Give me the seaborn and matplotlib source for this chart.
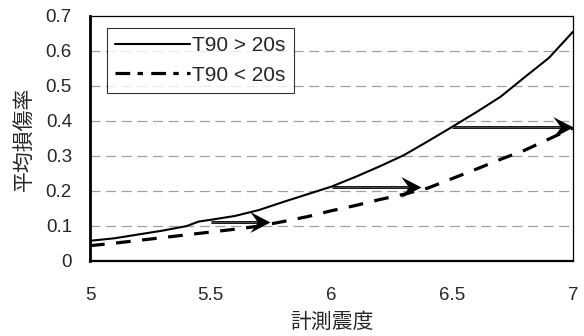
import matplotlib
matplotlib.use("Agg")
import matplotlib.pyplot as plt
from matplotlib.path import Path
import seaborn as sns
import pandas as pd

# seismic intensity (計測震度) grid
intensity = [5.0, 5.1, 5.2, 5.3, 5.4, 5.45, 5.5, 5.6, 5.7, 5.8, 5.9, 6.0,
             6.1, 6.2, 6.3, 6.4, 6.5, 6.6, 6.7, 6.8, 6.9, 7.0]
# mean damage ratio, long-duration motions
damage_long = [0.057, 0.064, 0.075, 0.086, 0.099, 0.112, 0.117, 0.128, 0.145,
               0.168, 0.190, 0.212, 0.240, 0.270, 0.302, 0.342, 0.383, 0.425,
               0.469, 0.525, 0.580, 0.655]
# mean damage ratio, short-duration motions
damage_short = [0.043, 0.050, 0.058, 0.066, 0.074, 0.078, 0.082, 0.090, 0.099,
                0.112, 0.126, 0.143, 0.158, 0.175, 0.190, 0.208, 0.235, 0.262,
                0.290, 0.316, 0.348, 0.380]
series_names = ["T90 > 20s", "T90 < 20s"]

# horizontal shift arrows: (start x, end x, damage level)
arrow_x0 = [5.5, 6.0, 6.5]
arrow_x1 = [5.745, 6.37, 7.0]
arrow_y = [0.112, 0.21, 0.383]

xticks = [5, 5.5, 6, 6.5, 7]
xtick_labels = ["5", "5.5", "6", "6.5", "7"]
yticks = [0, 0.1, 0.2, 0.3, 0.4, 0.5, 0.6, 0.7]
ytick_labels = ["0", "0.1", "0.2", "0.3", "0.4", "0.5", "0.6", "0.7"]

sns.set_style("white")
plt.rcParams["font.family"] = ["Liberation Sans", "Noto Sans CJK JP", "DejaVu Sans"]

df = pd.DataFrame({
    "x": intensity * 2,
    "y": damage_long + damage_short,
    "series": [series_names[0]] * len(intensity) + [series_names[1]] * len(intensity),
})

fig = plt.figure(figsize=(5.84, 3.36), dpi=100)
ax = fig.add_axes([0.1541, 0.2241, 0.8271, 0.7283])

sns.lineplot(data=df, x="x", y="y", hue="series", style="series",
             palette=["black", "black"],
             dashes={series_names[0]: "", series_names[1]: (4.6, 3.6)},
             ax=ax, legend=True)
lines = ax.get_lines()
lines[0].set_linewidth(1.5)
lines[1].set_linewidth(2.3)

# notched arrowhead with its tip at the origin
head = Path([(0, 0), (-1, 0.52), (-0.62, 0), (-1, -0.52), (0, 0)],
            [Path.MOVETO, Path.LINETO, Path.LINETO, Path.LINETO, Path.CLOSEPOLY])
for x0, x1, y in zip(arrow_x0, arrow_x1, arrow_y):
    ax.plot([x0, x1 - 0.03], [y, y], color="black", lw=2.0,
            solid_capstyle="butt", zorder=4)
    ax.plot([x0, x1 - 0.03], [y, y], color="#6a6a6a", lw=0.5,
            solid_capstyle="butt", zorder=4)
    ax.plot([x1], [y], marker=head, markersize=29, color="black",
            markeredgewidth=0, linestyle="none", zorder=5, clip_on=False)

ax.set_xlim(5, 7)
ax.set_ylim(0, 0.7)
ax.set_xticks(xticks)
ax.set_xticklabels(xtick_labels)
ax.set_yticks(yticks)
ax.set_yticklabels(ytick_labels)
ax.tick_params(axis="x", direction="in", length=4.5, width=0.8, pad=19,
               labelsize=13.5, color="#333333")
ax.tick_params(axis="y", length=0, pad=13, labelsize=13.5)

for y in yticks[1:-1]:
    ax.axhline(y, color="#a0a0a0", lw=0.9, dashes=(8, 4.5), zorder=0)

for side in ["top", "right"]:
    ax.spines[side].set_linewidth(0.9)
    ax.spines[side].set_color("black")
ax.spines["left"].set_linewidth(2.0)
ax.spines["bottom"].set_linewidth(1.6)
for side in ["left", "bottom"]:
    ax.spines[side].set_color("black")

ax.set_xlabel("計測震度", fontsize=15, family=["Noto Sans CJK JP"], labelpad=5)
ax.set_ylabel("平均損傷率", fontsize=15, family=["Noto Sans CJK JP"], labelpad=8)

handles, labels = ax.get_legend_handles_labels()
leg = ax.legend(handles, labels, loc="upper left", bbox_to_anchor=(0.035, 0.951),
                borderaxespad=0, frameon=True, fancybox=False, fontsize=15,
                handlelength=3.6, handletextpad=0.08, labelspacing=0.5,
                borderpad=0.4)
leg.get_frame().set_edgecolor("black")
leg.get_frame().set_linewidth(0.8)
leg.get_lines()[0].set_linewidth(1.5)
leg.get_lines()[1].set_linewidth(2.3)
leg.get_lines()[1].set_dashes((4.6, 2.3, 1.7, 2.6))

fig.savefig("out.png", dpi=100)
